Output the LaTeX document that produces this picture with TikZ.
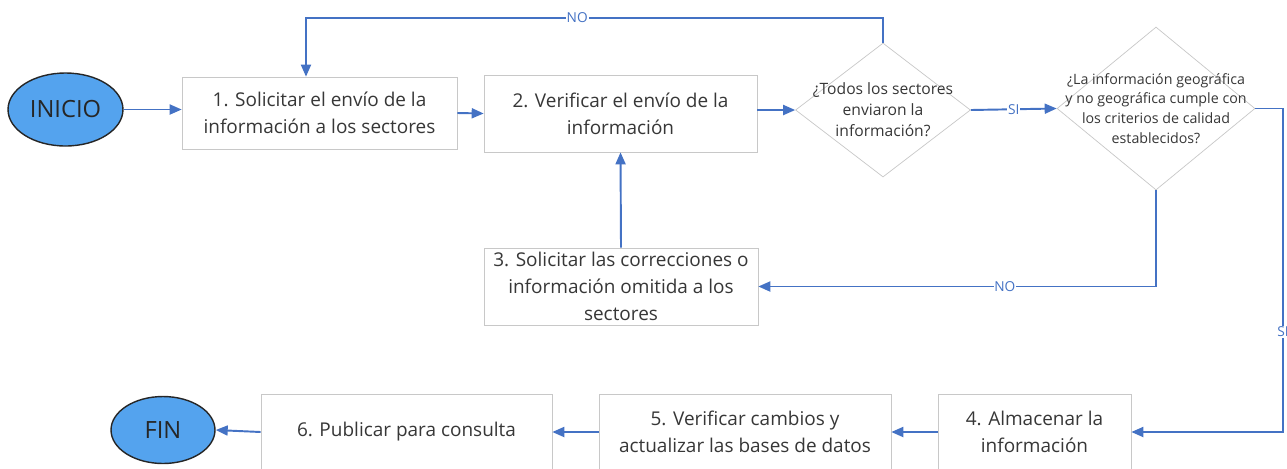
\documentclass[tikz,border=0pt]{standalone}
\usepackage{fontspec}
\setmainfont{Open Sans}
\usetikzlibrary{shapes.geometric,arrows.meta}

\definecolor{flowblue}{RGB}{68,114,196}
\definecolor{termfill}{RGB}{84,163,238}
\definecolor{boxline}{RGB}{200,200,200}
\definecolor{inktext}{RGB}{55,55,55}

\tikzset{
    proc/.style={draw=boxline, fill=white, text=inktext, align=center, inner sep=0pt,
        font=\fontsize{10.8}{15.3}\selectfont},
    term/.style={ellipse, draw=black!85, fill=termfill, line width=0.8pt, inner sep=0pt,
        text=black!85, font=\fontsize{13.5}{15}\selectfont},
    ask/.style={diamond, draw=boxline, fill=white, inner sep=0pt},
    asktext/.style={text=inktext, align=center, inner sep=0pt},
    flow/.style={draw=flowblue, line width=1.1pt, -{Triangle[length=0.24cm, width=0.2cm]}},
    tag/.style={fill=white, text=flowblue, inner sep=0.5pt, font=\fontsize{7.8}{8}\selectfont}
}

\begin{document}
\begin{tikzpicture}[x=0.02cm, y=-0.02cm]
    \useasboundingbox (0,0) rectangle (1287,468);

    % top row
    \node[term, minimum width=2.3cm, minimum height=1.46cm] (inicio) at (65.5,109.5) {INICIO};
    \node[proc, minimum width=5.5cm, minimum height=1.44cm] (s1) at (319.5,113)
        {1. Solicitar el envío de la\\información a los sectores};
    \node[proc, minimum width=5.46cm, minimum height=1.54cm] (s2) at (620.5,113.5)
        {2. Verificar el envío de la\\información};
    \node[ask, minimum width=3.5cm, minimum height=2.68cm] (q1) at (883,110) {};
    \node[asktext, font=\fontsize{8.9}{11.9}\selectfont] (q1txt) at (q1)
        {¿Todos los sectores\\enviaron la\\información?};
    \node[ask, minimum width=3.96cm, minimum height=3.26cm] (q2) at (1156,108.5) {};
    \node[asktext, font=\fontsize{8.1}{11.3}\selectfont] (q2txt) at (q2)
        {¿La información geográfica\\y no geográfica cumple con\\los criterios de calidad\\establecidos?};

    % middle row
    \node[proc, minimum width=5.48cm, minimum height=1.54cm] (s3) at (621,286.5)
        {3. Solicitar las correcciones o\\información omitida a los\\sectores};

    % bottom row
    \node[proc, minimum width=3.86cm, minimum height=1.52cm] (s4) at (1034.5,432)
        {4. Almacenar la\\información};
    \node[proc, minimum width=5.84cm, minimum height=1.52cm] (s5) at (745,432)
        {5. Verificar cambios y\\actualizar las bases de datos};
    \node[proc, minimum width=5.82cm, minimum height=1.52cm] (s6) at (406.5,432)
        {6. Publicar para consulta};
    \node[term, minimum width=2.08cm, minimum height=1.34cm] (fin) at (163,430) {FIN};

    \coordinate (top) at (306,18);
    \coordinate (rside) at (1283,108.5);

    % connectors
    \draw[flow] (inicio.east) -- (inicio.east -| s1.west);
    \draw[flow] (s1.east) -- (s2.west);
    \draw[flow] (q1.west -| s2.east) -- (q1.west);
    \draw[flow] (q1.east) -- node[tag] {SI} (q2.west);
    \draw[flow] (q1.north) -- (q1.north |- top) -- node[tag, pos=0.53] {NO} (top) -- (top |- s1.north);
    \draw[flow] (q2.south) |- node[tag, pos=0.69] {NO} (s3.east);
    \draw[flow] (s3.north) -- (s2.south);
    \draw[flow] (q2.east) -- (rside) -- node[tag, pos=0.69] {SI} (rside |- s4.east) -- (s4.east);
    \draw[flow] (s4.west) -- (s5.east);
    \draw[flow] (s5.west) -- (s6.east);
    \draw[flow] (s6.west) -- (fin.east);
\end{tikzpicture}
\end{document}
